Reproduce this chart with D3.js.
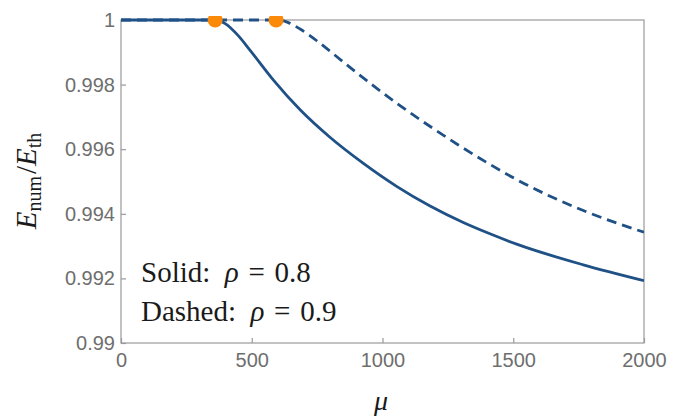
<!DOCTYPE html>
<html>
<head>
<meta charset="utf-8">
<script src="https://cdn.jsdelivr.net/npm/d3@7"></script>
<style>
  body { margin: 0; background: #fff; }
  .tick text { font-family: "Liberation Sans", Arial, sans-serif; font-size: 20px; fill: #6e6e6e; }
  .tick line { stroke: #999; stroke-width: 1.2; }
  .math { font-family: "Liberation Serif", "Times New Roman", serif; fill: #1a1a1a; }
</style>
</head>
<body>
<script>
// Solid: rho = 0.8, dashed: rho = 0.9
const solidMu = [0, 360, 400, 450, 493, 583, 685, 799, 927, 1054, 1182, 1309, 1411, 1513, 1768, 2000];
const solidE = [1, 1, 0.99988, 0.9995, 0.99907, 0.99814, 0.99722, 0.99637, 0.99556, 0.99485, 0.99424,
  0.99373, 0.99338, 0.99306, 0.99242, 0.99193];
const dashedMu = [0, 593, 640, 685, 750, 812, 940, 1067, 1194, 1290, 1411, 1513, 1768, 2000];
const dashedE = [1, 1, 0.99992, 0.99972, 0.99935, 0.99895, 0.99812, 0.99735, 0.99664, 0.99613, 0.99553,
  0.99506, 0.9941, 0.99343];
const markerMu = [360, 593];
const markerE = [1, 1];
const xTicks = [0, 500, 1000, 1500, 2000];
const yTicks = [0.99, 0.992, 0.994, 0.996, 0.998, 1];

const width = 690;
const height = 418;
const margin = {top: 20, right: 46, bottom: 75, left: 121};
const blue = '#1f5186';
const orange = '#fb8a0a';

const svg = d3.select('body')
  .append('svg')
    .attr('width', width)
    .attr('height', height);

const x = d3.scaleLinear().domain([0, 2000]).range([margin.left, width - margin.right]);
const y = d3.scaleLinear().domain([0.99, 1]).range([height - margin.bottom, margin.top]);

// clip slightly above the frame so the curves sit on the top edge
svg.append('clipPath')
    .attr('id', 'clip')
  .append('rect')
    .attr('x', margin.left)
    .attr('y', margin.top - 4)
    .attr('width', width - margin.left - margin.right)
    .attr('height', height - margin.top - margin.bottom + 4);

// Axes
svg.append('g')
    .attr('transform', `translate(0,${height - margin.bottom})`)
    .call(d3.axisBottom(x).tickValues(xTicks).tickSize(-5).tickPadding(10).tickFormat(d3.format('d')))
    .call(g => g.select('.domain').remove());

svg.append('g')
    .attr('transform', `translate(${margin.left},0)`)
    .call(d3.axisLeft(y).tickValues(yTicks).tickSize(-5).tickPadding(6)
      .tickFormat(d => String(+d.toFixed(3))))
    .call(g => g.select('.domain').remove());

// Frame
svg.append('rect')
    .attr('x', margin.left)
    .attr('y', margin.top)
    .attr('width', width - margin.left - margin.right)
    .attr('height', height - margin.top - margin.bottom)
    .attr('fill', 'none')
    .attr('stroke', '#999')
    .attr('stroke-width', 1.2);

const line = d3.line()
    .x(d => x(d[0]))
    .y(d => y(d[1]))
    .curve(d3.curveMonotoneX);

const plot = svg.append('g').attr('clip-path', 'url(#clip)');

plot.append('path')
    .datum(dashedMu.map((m, i) => [m, dashedE[i]]))
    .attr('d', line)
    .attr('fill', 'none')
    .attr('stroke', blue)
    .attr('stroke-width', 2.8)
    .attr('stroke-dasharray', '10,6');

plot.append('path')
    .datum(solidMu.map((m, i) => [m, solidE[i]]))
    .attr('d', line)
    .attr('fill', 'none')
    .attr('stroke', blue)
    .attr('stroke-width', 2.8);

plot.selectAll('circle')
    .data(markerMu)
  .enter().append('circle')
    .attr('cx', d => x(d))
    .attr('cy', (d, i) => y(markerE[i]))
    .attr('r', 7.5)
    .attr('fill', orange);

// Axis labels
svg.append('text')
    .attr('class', 'math')
    .attr('x', 381)
    .attr('y', 410)
    .attr('text-anchor', 'middle')
    .attr('font-size', 28)
    .attr('font-style', 'italic')
    .text('μ');

const ylab = svg.append('text')
    .attr('class', 'math')
    .attr('transform', 'translate(36,181) rotate(-90)')
    .attr('text-anchor', 'middle')
    .attr('font-size', 29);
ylab.append('tspan').attr('font-style', 'italic').text('E');
ylab.append('tspan').attr('font-size', 20).attr('dy', 5).text('num');
ylab.append('tspan').attr('dy', -5).attr('dx', 2).text('/');
ylab.append('tspan').attr('font-style', 'italic').text('E');
ylab.append('tspan').attr('font-size', 20).attr('dy', 5).text('th');

// Legend text
const notes = [['Solid:', '0.8'], ['Dashed:', '0.9']];
notes.forEach((n, i) => {
  const t = svg.append('text')
      .attr('class', 'math')
      .attr('x', 141)
      .attr('y', 282 + i * 39)
      .attr('font-size', 29)
      .attr('xml:space', 'preserve');
  t.append('tspan').text(n[0] + '\u2002');
  t.append('tspan').attr('font-style', 'italic').text('ρ');
  t.append('tspan').text('\u2004=\u2004' + n[1]);
});
</script>
</body>
</html>
